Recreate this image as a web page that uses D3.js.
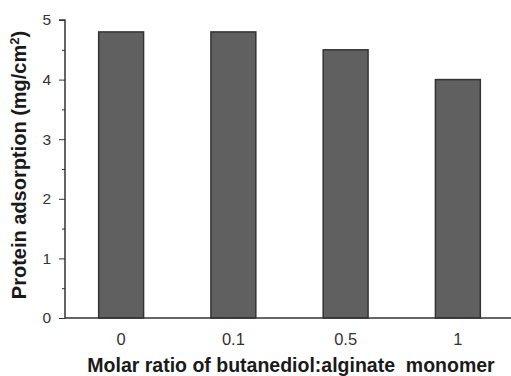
<!DOCTYPE html>
<html>
<head>
<meta charset="utf-8">
<script src="https://cdn.jsdelivr.net/npm/d3@7"></script>
<style>
  body { margin: 0; background: #fff; }
  text { font-family: "Liberation Sans", Arial, sans-serif; }
</style>
</head>
<body>
<div id="chart"></div>
<script>
// Protein adsorption bar chart

const ratios = ['0', '0.1', '0.5', '1']
const adsorption = [4.8, 4.8, 4.5, 4.0]
const yTicks = [0, 1, 2, 3, 4, 5]
const yMinorTicks = [0.5, 1.5, 2.5, 3.5, 4.5]

const width = 511
const height = 376
const margin = { top: 20, right: 0, bottom: 58, left: 65 }

const svg = d3.select('#chart')
  .append('svg')
  .attr('width', width)
  .attr('height', height)

const xScale = d3.scaleBand()
  .domain(ratios)
  .range([margin.left, 514])
  .paddingInner(0.6)
  .paddingOuter(0.3)

const yScale = d3.scaleLinear()
  .domain([0, 5])
  .range([height - margin.bottom, margin.top])

// bars
svg.selectAll('rect.bar')
  .data(adsorption)
  .enter()
  .append('rect')
  .attr('class', 'bar')
  .attr('x', (d, i) => xScale(ratios[i]))
  .attr('y', d => yScale(d))
  .attr('width', xScale.bandwidth())
  .attr('height', d => yScale(0) - yScale(d))
  .attr('fill', '#606060')
  .attr('stroke', '#333')
  .attr('stroke-width', 1.5)

// y axis
const yAxis = svg.append('g')
  .attr('transform', `translate(${margin.left}, 0)`)
  .call(d3.axisLeft(yScale).tickValues(yTicks).tickSize(6).tickPadding(8).tickFormat(d3.format('d')))
yAxis.select('.domain').attr('stroke', '#333').attr('stroke-width', 1.5).attr('d', `M-6,${yScale(5)}H0V${yScale(0)}`)
yAxis.selectAll('.tick line').attr('stroke', '#333')
yAxis.selectAll('.tick text')
  .attr('font-size', 15.5)
  .attr('fill', '#333')
  .attr('font-family', '"Liberation Sans", Arial, sans-serif')

svg.append('g')
  .attr('transform', `translate(${margin.left}, 0)`)
  .call(d3.axisLeft(yScale).tickValues(yMinorTicks).tickSize(3).tickFormat(''))
  .call(g => g.select('.domain').remove())
  .selectAll('.tick line').attr('stroke', '#333')

// x axis
const xAxis = svg.append('g')
  .attr('transform', `translate(0, ${yScale(0)})`)
  .call(d3.axisBottom(xScale).tickSize(0).tickPadding(15))
xAxis.select('.domain').attr('stroke', '#333').attr('stroke-width', 1.5).attr('d', `M${margin.left},0H${width}`)
xAxis.selectAll('.tick text')
  .attr('font-size', 16.5)
  .attr('fill', '#333')
  .attr('font-family', '"Liberation Sans", Arial, sans-serif')

// axis titles
svg.append('text')
  .attr('x', 291)
  .attr('y', 372)
  .attr('text-anchor', 'middle')
  .attr('font-size', 19.5)
  .attr('font-weight', 'bold')
  .attr('fill', '#1a1a1a')
  .style('white-space', 'pre')
  .text('Molar ratio of butanediol:alginate  monomer')

const yTitle = svg.append('text')
  .attr('transform', `translate(26, 165) rotate(-90)`)
  .attr('text-anchor', 'middle')
  .attr('font-size', 20)
  .attr('font-weight', 'bold')
  .attr('fill', '#1a1a1a')
yTitle.append('tspan').text('Protein adsorption (mg/cm')
yTitle.append('tspan').attr('dy', -7).attr('font-size', 13).text('2')
yTitle.append('tspan').attr('dy', 7).text(')')
</script>
</body>
</html>
